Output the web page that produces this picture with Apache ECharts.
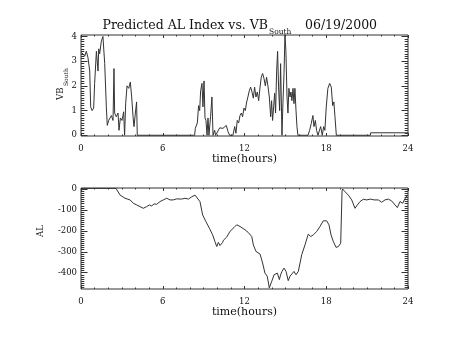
<!DOCTYPE html>
<html>
<head>
<meta charset="utf-8">
<script src="https://cdn.jsdelivr.net/npm/echarts@6/dist/echarts.min.js"></script>
<style>
html,body{margin:0;padding:0;background:#fff;}
#chart{width:454px;height:341px;}
</style>
</head>
<body>
<div id="chart"></div>
<script>
// ---- Data ----
const vbHours = [0.00,0.15,0.27,0.39,0.51,0.64,0.71,0.81,0.93,1.00,1.13,1.25,1.30,1.37,1.49,1.61,1.74,1.86,1.93,2.03,2.13,2.23,2.35,2.42,2.47,2.59,2.72,2.79,2.89,3.01,3.13,3.20,3.28,3.38,3.50,3.62,3.72,3.82,3.89,3.99,4.08,4.13,
  8.34,8.39,8.54,8.63,8.71,8.78,8.88,8.95,9.03,9.10,9.17,9.25,9.32,9.39,9.51,9.61,9.69,9.81,9.88,10.00,10.18,10.30,10.42,10.54,10.66,10.79,10.91,11.03,11.15,11.28,11.37,11.47,11.57,11.67,11.77,11.86,11.96,12.06,12.16,12.25,12.35,12.45,12.55,12.65,12.74,12.84,12.94,13.04,13.14,13.23,13.33,13.43,13.53,13.62,13.72,13.82,13.92,13.99,14.06,14.14,14.21,14.28,14.36,14.43,14.50,14.58,14.65,14.75,14.82,14.90,14.97,15.04,15.12,15.19,15.26,15.34,15.41,15.48,15.56,15.63,15.70,15.78,15.85,15.92,
  16.66,16.78,16.90,17.02,17.10,17.20,17.29,17.39,17.51,17.59,17.71,17.81,17.90,18.00,18.12,18.25,18.37,18.47,18.56,18.64,18.74,19.05,19.10,19.15,21.24,21.26,24.00];
const vbValues = [3.35,3.30,3.20,3.40,3.15,2.60,1.15,1.00,1.10,2.10,3.40,2.60,3.50,3.30,3.80,4.00,2.90,1.15,0.40,0.60,0.55,0.80,0.60,2.70,0.90,0.75,0.90,0.20,0.70,0.60,0.95,0.00,1.30,2.00,1.90,2.15,1.55,0.75,0.35,0.90,1.35,0.00,
  0.00,0.28,0.50,1.20,1.00,1.80,2.10,1.15,2.20,0.70,0.60,0.00,0.70,0.00,0.75,1.55,0.00,0.20,0.00,0.00,0.30,0.35,0.28,0.35,0.40,0.15,0.00,0.08,0.00,0.35,0.08,0.60,0.50,0.80,0.90,0.75,1.10,1.00,1.35,1.55,1.80,1.95,1.75,1.50,1.95,1.55,1.75,1.40,1.95,2.35,2.50,2.30,2.00,2.35,2.00,1.55,0.75,1.40,0.60,1.15,1.70,0.90,2.60,3.40,1.95,1.00,2.90,0.00,1.30,2.50,4.08,3.40,1.55,0.90,1.90,1.55,1.75,1.40,1.90,1.28,1.90,1.00,0.35,0.00,
  0.00,0.20,0.48,0.80,0.35,0.60,0.20,0.00,0.00,0.35,0.00,0.35,0.20,1.15,1.90,2.10,1.95,1.20,1.35,0.75,0.00,0.00,0.06,0.00,0.00,0.10,0.10];

const alHours = [0,2.57,2.87,3.23,3.35,3.60,3.84,4.09,4.33,4.57,4.70,4.82,5.02,5.19,5.36,5.55,5.80,6.04,6.29,6.53,6.77,7.02,7.39,7.63,7.88,8.13,8.37,8.49,8.73,8.93,9.17,9.42,9.66,9.83,9.96,10.08,10.20,10.40,10.45,10.69,10.94,11.23,11.43,11.55,11.67,12.04,12.28,12.53,12.65,12.84,13.14,13.33,13.50,13.67,13.82,14.00,14.17,14.31,14.41,14.56,14.65,14.75,14.90,15.05,15.21,15.34,15.46,15.63,15.78,15.95,16.07,16.20,16.44,16.68,16.86,17.05,17.30,17.54,17.78,18.03,18.20,18.35,18.52,18.72,18.89,19.06,19.16,19.20,19.38,19.62,19.87,20.11,20.28,20.48,20.72,20.97,21.26,21.50,21.82,22.07,22.31,22.56,22.80,23.05,23.22,23.41,23.61,23.85,24.00];
const alValues = [3,3,-29,-44,-37,-52,-68,-76,-84,-92,-100,-84,-76,-81,-71,-73,-60,-52,-44,-52,-52,-47,-48,-44,-48,-37,-29,-32,-60,-124,-156,-187,-219,-251,-275,-255,-270,-255,-245,-230,-202,-184,-171,-170,-179,-195,-208,-227,-267,-298,-311,-354,-402,-417,-473,-441,-410,-417,-402,-433,-410,-394,-378,-394,-438,-417,-410,-394,-410,-394,-386,-314,-267,-216,-227,-219,-203,-179,-152,-152,-171,-219,-251,-279,-275,-259,-10,0,-13,-29,-52,-92,-76,-60,-49,-52,-48,-52,-52,-63,-52,-48,-57,-76,-89,-60,-68,-37,-29];

const xTickLabels = [0,6,12,18,24];
const vbTickLabels = [0,1,2,3,4];
const alTickLabels = [0,-100,-200,-300,-400];

// ---- Build ----
const vbData = vbHours.map((h,i)=>[h,vbValues[i]]);
const alData = alHours.map((h,i)=>[h,alValues[i]]);

function range(a,b,step){const r=[];for(let v=a;v<=b+1e-9;v+=step)r.push(Math.round(v*1000)/1000);return r;}
const xMinor = range(0,24,1);
const vbMinor = range(0,4,0.1);
const alMinor = range(-470,0,10);

const FONT = 'DejaVu Serif';
const TXT = '#111';
const LINE = '#333';

function tickAxis(grid, pos, min, max, vals, len, labels, margin){
  return {
    type:'value', gridIndex:grid, position:pos, min:min, max:max,
    axisLine:{show:false, onZero:false}, splitLine:{show:false},
    axisTick:{show:true, inside:true, length:len, lineStyle:{color:LINE,width:1}, customValues: vals},
    axisLabel: labels ? {show:true, customValues: vals, margin:margin, color:TXT, fontFamily:FONT, fontSize:8.5} : {show:false}
  };
}

const R0 = {left:81, top:35, width:327, height:101};
const R1 = {left:81, top:188, width:327, height:101};
const VB_MIN = -0.03, VB_MAX = 4.06, AL_MIN = -478, AL_MAX = 5;

const xAxis = [];
const yAxis = [];
const nameStyle = {color:TXT,fontFamily:FONT,fontSize:11,verticalAlign:'top'};
// grid 0: top plot majors
const xb0 = tickAxis(0,'bottom',0,24,xTickLabels,3,true,8);
xb0.name='time(hours)'; xb0.nameLocation='middle'; xb0.nameGap=17; xb0.nameTextStyle=nameStyle;
xAxis.push(xb0, tickAxis(0,'top',0,24,xTickLabels,3,false));
yAxis.push(tickAxis(0,'left',VB_MIN,VB_MAX,vbTickLabels,6.5,true,4), tickAxis(0,'right',VB_MIN,VB_MAX,vbTickLabels,6.5,false));
// grid 1: bottom plot majors
const xb1 = tickAxis(1,'bottom',0,24,xTickLabels,3,true,8);
xb1.name='time(hours)'; xb1.nameLocation='middle'; xb1.nameGap=17; xb1.nameTextStyle=nameStyle;
xAxis.push(xb1, tickAxis(1,'top',0,24,xTickLabels,3,false));
yAxis.push(tickAxis(1,'left',AL_MIN,AL_MAX,alTickLabels,6.5,true,4), tickAxis(1,'right',AL_MIN,AL_MAX,alTickLabels,6.5,false));
// grid 2: top plot minors (overlay)
xAxis.push(tickAxis(2,'bottom',0,24,xMinor,1.5,false), tickAxis(2,'top',0,24,xMinor,1.5,false));
yAxis.push(tickAxis(2,'left',VB_MIN,VB_MAX,vbMinor,3.3,false), tickAxis(2,'right',VB_MIN,VB_MAX,vbMinor,3.3,false));
// grid 3: bottom plot minors (overlay)
xAxis.push(tickAxis(3,'bottom',0,24,xMinor,1.5,false), tickAxis(3,'top',0,24,xMinor,1.5,false));
yAxis.push(tickAxis(3,'left',AL_MIN,AL_MAX,alMinor,3.3,false), tickAxis(3,'right',AL_MIN,AL_MAX,alMinor,3.3,false));

const option = {
  animation:false,
  backgroundColor:'#fff',
  grid:[
    Object.assign({show:true, borderColor:LINE, borderWidth:1, backgroundColor:'transparent'}, R0),
    Object.assign({show:true, borderColor:LINE, borderWidth:1, backgroundColor:'transparent'}, R1),
    Object.assign({show:false}, R0),
    Object.assign({show:false}, R1)
  ],
  xAxis: xAxis,
  yAxis: yAxis,
  series:[
    {type:'line', xAxisIndex:0, yAxisIndex:0, data:vbData, showSymbol:false, lineStyle:{color:LINE,width:1}, clip:true},
    {type:'line', xAxisIndex:2, yAxisIndex:2, data:alData, showSymbol:false, lineStyle:{color:LINE,width:1}, clip:true}
  ],
  graphic:[
    {type:'text', x:268, y:26, style:{text:'Predicted AL Index vs. VB', fontFamily:FONT, fontSize:12.5, fill:TXT, textAlign:'right', textVerticalAlign:'middle'}},
    {type:'text', x:269, y:32.5, style:{text:'South', fontFamily:FONT, fontSize:7.5, fill:TXT, textAlign:'left', textVerticalAlign:'middle'}},
    {type:'text', x:305, y:26, style:{text:'06/19/2000', fontFamily:FONT, fontSize:12.5, fill:TXT, textAlign:'left', textVerticalAlign:'middle'}},
    {type:'group', x:60.5, y:100, rotation:Math.PI/2, children:[
      {type:'text', x:0, y:0, style:{text:'VB', fontFamily:FONT, fontSize:8.5, fill:TXT, textAlign:'left', textVerticalAlign:'middle'}},
      {type:'text', x:14, y:5.5, style:{text:'South', fontFamily:FONT, fontSize:6, fill:TXT, textAlign:'left', textVerticalAlign:'middle'}}
    ]},
    {type:'text', x:41, y:231, rotation:Math.PI/2, style:{text:'AL', fontFamily:FONT, fontSize:8.5, fill:TXT, textAlign:'center', textVerticalAlign:'middle'}}
  ]
};
const chart = echarts.init(document.getElementById('chart'), null, {renderer:'canvas'});
chart.setOption(option);
</script>
</body>
</html>
